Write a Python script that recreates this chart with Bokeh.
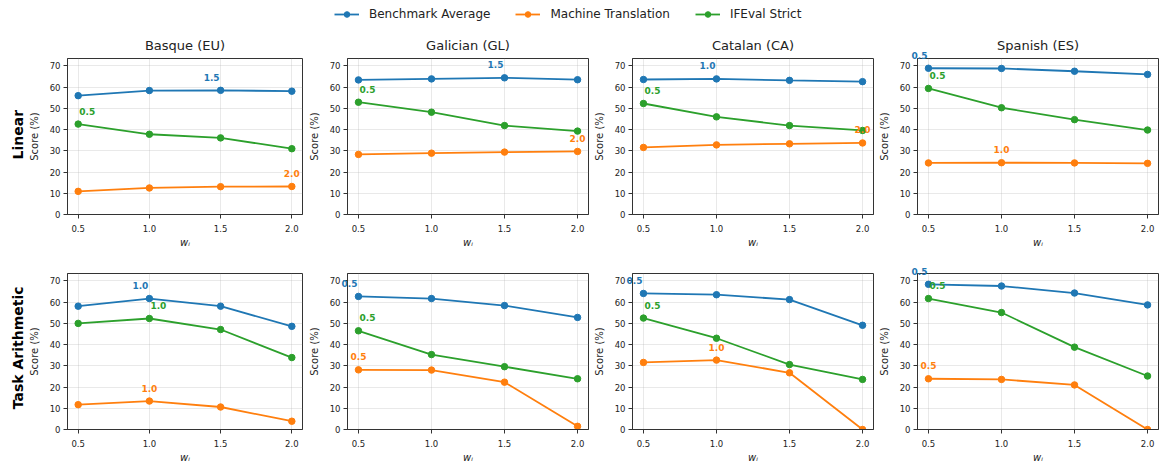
import numpy as np
from bokeh.plotting import figure
from bokeh.layouts import column, row
from bokeh.models import (Range1d, FixedTicker, NumeralTickFormatter, Legend, LegendItem)
from bokeh.core.properties import value
from bokeh.embed import file_html
from bokeh.resources import INLINE

# ---------------- data ----------------
weights = [0.5, 1.0, 1.5, 2.0]
languages = ["Basque (EU)", "Galician (GL)", "Catalan (CA)", "Spanish (ES)"]
methods = ["Linear", "Task Arithmetic"]
series_names = ["Benchmark Average", "Machine Translation", "IFEval Strict"]
y_ticks = [0, 10, 20, 30, 40, 50, 60, 70]

# Linear merging
lin_eu_bench = [56.0, 58.4, 58.5, 58.1]
lin_eu_mt = [10.9, 12.5, 13.1, 13.2]
lin_eu_if = [42.6, 37.8, 36.1, 31.0]
lin_gl_bench = [63.4, 63.9, 64.4, 63.5]
lin_gl_mt = [28.3, 28.9, 29.4, 29.7]
lin_gl_if = [52.9, 48.2, 41.9, 39.3]
lin_ca_bench = [63.6, 63.9, 63.2, 62.6]
lin_ca_mt = [31.6, 32.8, 33.3, 33.7]
lin_ca_if = [52.3, 46.0, 41.9, 39.6]
lin_es_bench = [68.9, 68.8, 67.5, 66.0]
lin_es_mt = [24.3, 24.4, 24.3, 24.1]
lin_es_if = [59.4, 50.3, 44.7, 39.8]

# Task Arithmetic merging
ta_eu_bench = [58.1, 61.7, 58.1, 48.6]
ta_eu_mt = [11.7, 13.4, 10.6, 3.9]
ta_eu_if = [50.0, 52.3, 47.1, 33.9]
ta_gl_bench = [62.7, 61.7, 58.4, 52.8]
ta_gl_mt = [28.1, 28.0, 22.3, 1.5]
ta_gl_if = [46.5, 35.3, 29.6, 23.9]
ta_ca_bench = [64.1, 63.5, 61.2, 49.1]
ta_ca_mt = [31.6, 32.7, 26.7, 0.0]
ta_ca_if = [52.5, 43.0, 30.6, 23.6]
ta_es_bench = [68.4, 67.6, 64.3, 58.7]
ta_es_mt = [23.9, 23.6, 21.0, 0.0]
ta_es_if = [61.7, 55.1, 38.8, 25.2]

data = {
    "Linear": [
        [lin_eu_bench, lin_eu_mt, lin_eu_if],
        [lin_gl_bench, lin_gl_mt, lin_gl_if],
        [lin_ca_bench, lin_ca_mt, lin_ca_if],
        [lin_es_bench, lin_es_mt, lin_es_if],
    ],
    "Task Arithmetic": [
        [ta_eu_bench, ta_eu_mt, ta_eu_if],
        [ta_gl_bench, ta_gl_mt, ta_gl_if],
        [ta_ca_bench, ta_ca_mt, ta_ca_if],
        [ta_es_bench, ta_es_mt, ta_es_if],
    ],
}

# ---------------- style ----------------
COLORS = ["#1f77b4", "#ff7f0e", "#2ca02c"]
LABEL_DX = [-9, 0, 9]
FONT = "DejaVu Sans"
TXT = "#222222"
SPINE = "#333333"

FRAME_W = 241
FRAME_H = 159
LEFT_BORDERS = [36, 44, 43, 43]
ROW_TOP = [28, 23]
ROW_BOTTOM = [33, 33]
ROWLABEL_W = 25
LEGEND_H = 30


def make_panel(mi, li):
    method = methods[mi]
    top = ROW_TOP[mi]
    bottom = ROW_BOTTOM[mi]
    p = figure(width=LEFT_BORDERS[li] + FRAME_W + 1, height=top + FRAME_H + bottom,
               output_backend="svg", toolbar_location=None,
               x_range=Range1d(0.425, 2.075), y_range=Range1d(0, 73.5),
               min_border_left=LEFT_BORDERS[li], min_border_right=1,
               min_border_top=top, min_border_bottom=bottom,
               title=languages[li] if mi == 0 else None)
    if mi == 0:
        p.title.text_font = FONT
        p.title.text_font_size = "13px"
        p.title.text_font_style = "normal"
        p.title.text_color = TXT
        p.title.align = "center"
        p.title.standoff = 11
    p.outline_line_color = SPINE
    p.outline_line_width = 1
    p.background_fill_color = "white"
    p.border_fill_color = "white"

    p.xaxis.ticker = FixedTicker(ticks=weights)
    p.xaxis.formatter = NumeralTickFormatter(format="0.0")
    p.yaxis.ticker = FixedTicker(ticks=y_ticks)
    p.yaxis.formatter = NumeralTickFormatter(format="0")
    p.xaxis.axis_label = "wᵢ"
    p.yaxis.axis_label = "Score (%)"
    for ax in (p.xaxis, p.yaxis):
        ax.axis_line_color = SPINE
        ax.major_tick_line_color = SPINE
        ax.major_tick_out = 4
        ax.major_tick_in = 0
        ax.minor_tick_line_color = None
        ax.major_label_text_font = FONT
        ax.major_label_text_font_size = "8.5px"
        ax.major_label_text_color = TXT
        ax.axis_label_text_font = FONT
        ax.axis_label_text_font_size = "10px"
        ax.axis_label_text_color = TXT
    p.xaxis.major_label_standoff = 6
    p.xaxis.axis_label_standoff = 2
    p.yaxis.major_label_standoff = 3
    p.yaxis.axis_label_standoff = 7
    p.xaxis.axis_label_text_font_style = "italic"
    p.yaxis.axis_label_text_font_style = "normal"
    p.grid.grid_line_color = "#b0b0b0"
    p.grid.grid_line_alpha = 0.35
    p.grid.grid_line_width = 0.8

    for si, vals in enumerate(data[method][li]):
        c = COLORS[si]
        p.line(weights, vals, line_color=c, line_width=1.8)
        p.scatter(weights, vals, size=6.5, fill_color=c, line_color=c)
        best = int(np.argmax(vals))
        # best-weight annotation, drawn at overlay level so it may spill past the frame
        p.text(x=[weights[best]], y=[vals[best]], text=[f"{weights[best]:.1f}"],
               x_offset=LABEL_DX[si], y_offset=-13, level="overlay",
               text_align="center", text_baseline="middle",
               text_font=value(FONT), text_font_size="9px",
               text_font_style="bold", text_color=c)
    return p


def make_row_label(mi, height):
    p = figure(width=ROWLABEL_W, height=height, output_backend="svg",
               toolbar_location=None, x_axis_location=None, y_axis_location=None,
               x_range=Range1d(0, ROWLABEL_W), y_range=Range1d(0, height),
               min_border=0, outline_line_color=None)
    p.grid.visible = False
    p.text(x=[17], y=[ROW_BOTTOM[mi] + FRAME_H / 2], text=[methods[mi]],
           angle=np.pi / 2, text_align="center", text_baseline="middle",
           text_font=value(FONT), text_font_size="14px", text_font_style="bold",
           text_color="black")
    return p


# legend strip
total_w = ROWLABEL_W + sum(LEFT_BORDERS) + 4 * (FRAME_W + 1)
lf = figure(width=total_w, height=LEGEND_H,
            output_backend="svg", toolbar_location=None,
            x_axis_location=None, y_axis_location=None,
            x_range=Range1d(0, 1), y_range=Range1d(0, 1),
            min_border=0, outline_line_color=None)
lf.grid.visible = False
items = []
for si, name in enumerate(series_names):
    rl = lf.line(x=[np.nan, np.nan], y=[np.nan, np.nan], line_color=COLORS[si], line_width=1.8)
    rs = lf.scatter(x=[np.nan], y=[np.nan], size=6.5, fill_color=COLORS[si], line_color=COLORS[si])
    items.append(LegendItem(label=name, renderers=[rl, rs]))
legend = Legend(items=items, orientation="horizontal", location=(334, 9),
                glyph_width=25, glyph_height=14, label_height=14, label_standoff=10,
                spacing=25, padding=0, margin=0, border_line_alpha=0,
                background_fill_alpha=0, label_text_font=FONT,
                label_text_font_size="12px", label_text_color=TXT)
lf.add_layout(legend)

rows = [lf]
for mi in range(2):
    panels = [make_panel(mi, li) for li in range(4)]
    rl = make_row_label(mi, ROW_TOP[mi] + FRAME_H + ROW_BOTTOM[mi])
    rows.append(row(rl, *panels))

layout = column(*rows)

open("out.html", "w").write(file_html(layout, INLINE))
